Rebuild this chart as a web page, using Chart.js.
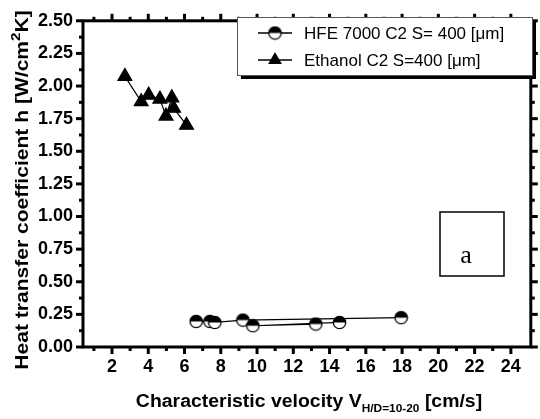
<!DOCTYPE html>
<html>
<head>
<meta charset="utf-8">
<script src="https://cdn.jsdelivr.net/npm/chart.js@4.4.1/dist/chart.umd.min.js"></script>
<style>
  html, body { margin: 0; padding: 0; background: #fff; }
  #wrap { width: 540px; height: 419px; }
</style>
</head>
<body>
<div id="wrap"><canvas id="chart" width="540" height="419"></canvas></div>
<script>
// data
const seriesLabels = ['HFE 7000 C2 S= 400 [\u03bcm]', 'Ethanol C2 S=400 [\u03bcm]'];
// null breaks the line the same way the original draws it
const hfeVelocity = [6.64, 7.40, 7.67, 9.22, 17.95, null, 13.24, 9.77, 14.55];
const hfeH = [0.196, 0.196, 0.188, 0.206, 0.225, null, 0.176, 0.163, 0.188];
const ethanolVelocity = [2.71, 3.61, 4.02, 4.64, 4.98, 5.30, 5.40, 6.11];
const ethanolH = [2.074, 1.88, 1.93, 1.90, 1.77, 1.91, 1.83, 1.70];
const xTickValues = [2, 4, 6, 8, 10, 12, 14, 16, 18, 20, 22, 24];
const xMinorValues = [1, 3, 5, 7, 9, 11, 13, 15, 17, 19, 21, 23];
const yTickValues = [0, 0.25, 0.5, 0.75, 1, 1.25, 1.5, 1.75, 2, 2.25, 2.5];
const yMinorValues = [0.125, 0.375, 0.625, 0.875, 1.125, 1.375, 1.625, 1.875, 2.125, 2.375];
const panelLetter = 'a';

const SANS = '"Liberation Sans", Arial, sans-serif';

// half filled circle marker (top black, bottom white)
function halfCircle() {
  const c = document.createElement('canvas');
  c.width = 15; c.height = 15;
  const g = c.getContext('2d');
  g.beginPath(); g.arc(7.5, 7.5, 6.2, 0, Math.PI * 2); g.fillStyle = '#fff'; g.fill();
  g.beginPath(); g.arc(7.5, 7.5, 6.2, Math.PI, 0); g.closePath(); g.fillStyle = '#000'; g.fill();
  g.beginPath(); g.arc(7.5, 7.5, 6.2, 0, Math.PI * 2); g.lineWidth = 1.3; g.strokeStyle = '#000'; g.stroke();
  return c;
}
const hfeMarker = halfCircle();

function toPoints(xs, ys) {
  return xs.map((v, i) => ({ x: v, y: ys[i] }));
}

// text with sub/superscript, centred on the origin, stretched along the text by sx
function drawRich(ctx, parts, sx) {
  let w = 0;
  parts.forEach(p => { ctx.font = p.font; w += ctx.measureText(p.text).width; });
  ctx.scale(sx, 1);
  let x = -w / 2;
  parts.forEach(p => {
    ctx.font = p.font;
    ctx.fillText(p.text, x, p.dy || 0);
    x += ctx.measureText(p.text).width;
  });
}

const decorPlugin = {
  id: 'decor',
  afterDraw(chart) {
    const ctx = chart.ctx;
    const a = chart.chartArea;
    const xs = chart.scales.x, ys = chart.scales.y;
    ctx.save();
    ctx.strokeStyle = '#000';
    ctx.fillStyle = '#000';
    ctx.lineCap = 'butt';

    // ticks, outward on all four sides
    ctx.lineWidth = 3;
    const tick = (x1, y1, x2, y2) => { ctx.beginPath(); ctx.moveTo(x1, y1); ctx.lineTo(x2, y2); ctx.stroke(); };
    xTickValues.forEach(v => {
      const px = xs.getPixelForValue(v);
      tick(px, a.bottom, px, a.bottom + 7);
      tick(px, a.top, px, a.top - 7);
    });
    xMinorValues.forEach(v => {
      const px = xs.getPixelForValue(v);
      tick(px, a.bottom, px, a.bottom + 4);
      tick(px, a.top, px, a.top - 4);
    });
    yTickValues.forEach(v => {
      const py = ys.getPixelForValue(v);
      tick(a.left, py, a.left - 7, py);
      tick(a.right, py, a.right + 7, py);
    });
    yMinorValues.forEach(v => {
      const py = ys.getPixelForValue(v);
      tick(a.left, py, a.left - 4, py);
      tick(a.right, py, a.right + 4, py);
    });

    // frame
    ctx.lineWidth = 3;
    ctx.strokeRect(a.left, a.top, a.right - a.left, a.bottom - a.top);

    // axis titles
    ctx.textBaseline = 'alphabetic';
    ctx.textAlign = 'left';
    ctx.save();
    ctx.translate(309, 407);
    drawRich(ctx, [
      { text: 'Characteristic velocity V', font: 'bold 18px ' + SANS },
      { text: 'H/D=10-20', font: 'bold 11px ' + SANS, dy: 5 },
      { text: ' [cm/s]', font: 'bold 18px ' + SANS }
    ], 1.08);
    ctx.restore();

    ctx.save();
    ctx.translate(28, 190);
    ctx.rotate(-Math.PI / 2);
    drawRich(ctx, [
      { text: 'Heat transfer coefficient h [W/cm', font: 'bold 18px ' + SANS },
      { text: '2', font: 'bold 13px ' + SANS, dy: -8 },
      { text: 'K]', font: 'bold 18px ' + SANS }
    ], 1.17);
    ctx.restore();

    // legend box with shadow
    const lx = 237, ly = 17, lw = 295, lh = 58;
    ctx.fillStyle = '#000';
    ctx.fillRect(lx + 4, ly + 4, lw, lh);
    ctx.fillStyle = '#fff';
    ctx.fillRect(lx, ly, lw, lh);
    ctx.lineWidth = 1;
    ctx.strokeStyle = '#555';
    ctx.strokeRect(lx + 0.5, ly + 0.5, lw, lh);

    const rows = [ly + 16, ly + 43];
    chart.data.datasets.forEach((ds, i) => {
      const y = rows[i];
      ctx.strokeStyle = '#000';
      ctx.lineWidth = 1.5;
      ctx.beginPath(); ctx.moveTo(258, y); ctx.lineTo(292, y); ctx.stroke();
      if (ds.pointStyle === 'triangle') {
        const r = ds.pointRadius;
        ctx.beginPath();
        ctx.moveTo(275, y - r);
        ctx.lineTo(275 + r * Math.sin(Math.PI * 2 / 3), y + r / 2);
        ctx.lineTo(275 - r * Math.sin(Math.PI * 2 / 3), y + r / 2);
        ctx.closePath();
        ctx.fillStyle = '#000';
        ctx.fill();
      } else {
        ctx.drawImage(ds.pointStyle, 275 - 7.5, y - 7.5);
      }
      ctx.fillStyle = '#000';
      ctx.font = '17px ' + SANS;
      ctx.textBaseline = 'middle';
      ctx.fillText(ds.label, 304, y + 1);
    });

    // panel letter box
    ctx.lineWidth = 1.5;
    ctx.strokeStyle = '#000';
    ctx.strokeRect(440, 212, 64, 64);
    ctx.font = '26px "Liberation Serif", "Times New Roman", serif';
    ctx.textAlign = 'center';
    ctx.textBaseline = 'alphabetic';
    ctx.fillStyle = '#000';
    ctx.fillText(panelLetter, 466, 263);

    ctx.restore();
  }
};

const tickFont = { family: SANS, size: 18, weight: 'bold' };

new Chart(document.getElementById('chart'), {
  type: 'scatter',
  data: {
    datasets: [
      {
        label: seriesLabels[0],
        data: toPoints(hfeVelocity, hfeH),
        showLine: true,
        spanGaps: false,
        borderColor: '#000',
        borderWidth: 1.2,
        pointStyle: hfeMarker,
        pointRadius: 7
      },
      {
        label: seriesLabels[1],
        data: toPoints(ethanolVelocity, ethanolH),
        showLine: true,
        borderColor: '#000',
        borderWidth: 1.2,
        backgroundColor: '#000',
        pointBackgroundColor: '#000',
        pointBorderColor: '#000',
        pointStyle: 'triangle',
        pointRadius: 8
      }
    ]
  },
  options: {
    responsive: false,
    animation: false,
    devicePixelRatio: 1,
    layout: { padding: { top: 15, right: 5, left: 0, bottom: 0 } },
    plugins: { legend: { display: false }, tooltip: { enabled: false } },
    scales: {
      x: {
        type: 'linear',
        min: 0.4,
        max: 25.1,
        afterBuildTicks: s => { s.ticks = xTickValues.map(v => ({ value: v })); },
        afterFit: s => { s.height = 72; },
        grid: { display: false, drawTicks: false },
        border: { display: false },
        ticks: { font: tickFont, color: '#000', padding: 9, maxRotation: 0, autoSkip: false }
      },
      y: {
        type: 'linear',
        min: 0,
        max: 2.5,
        afterBuildTicks: s => { s.ticks = yTickValues.map(v => ({ value: v })); },
        afterFit: s => { s.width = 83; },
        grid: { display: false, drawTicks: false },
        border: { display: false },
        ticks: { font: tickFont, color: '#000', padding: 10, autoSkip: false, callback: v => v.toFixed(2) }
      }
    }
  },
  plugins: [decorPlugin]
});
</script>
</body>
</html>
